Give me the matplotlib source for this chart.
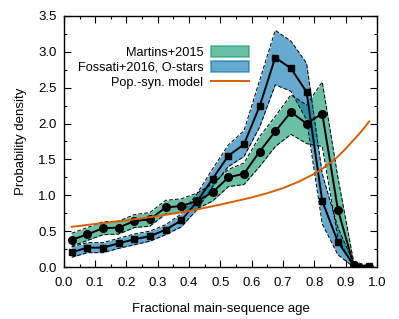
import matplotlib
matplotlib.use('Agg')
import matplotlib.pyplot as plt
from matplotlib.patches import Patch
from matplotlib.lines import Line2D
from matplotlib.ticker import MultipleLocator

plt.rcParams['font.family'] = ['Liberation Sans', 'DejaVu Sans']

# bin centres of the fractional MS age
age = [0.025, 0.075, 0.125, 0.175, 0.225, 0.275, 0.325, 0.375, 0.425, 0.475,
       0.525, 0.575, 0.625, 0.675, 0.725, 0.775, 0.825, 0.875, 0.925, 0.975]

# Martins+2015
martins = [0.377, 0.456, 0.54, 0.55, 0.64, 0.665, 0.83, 0.85, 0.92, 1.04,
           1.25, 1.30, 1.61, 1.89, 2.16, 2.00, 2.14, 0.80, 0.03, 0.0]
martins_hi = [0.47, 0.55, 0.63, 0.64, 0.73, 0.76, 0.93, 0.95, 1.03, 1.16,
              1.36, 1.45, 1.82, 2.10, 2.40, 2.26, 2.58, 1.25, 0.08, 0.01]
martins_lo = [0.29, 0.37, 0.45, 0.46, 0.55, 0.57, 0.74, 0.76, 0.81, 0.92,
              1.12, 1.15, 1.40, 1.68, 1.85, 1.72, 1.68, 0.40, 0.0, 0.0]

# Fossati+2016, O-stars
fossati = [0.205, 0.27, 0.27, 0.33, 0.386, 0.43, 0.52, 0.65, 0.91, 1.23,
           1.55, 1.71, 2.24, 2.92, 2.77, 2.44, 0.92, 0.35, 0.03, 0.01]
fossati_hi = [0.28, 0.34, 0.34, 0.40, 0.46, 0.50, 0.59, 0.74, 1.02, 1.37,
              1.70, 1.90, 2.60, 3.30, 3.15, 2.84, 1.30, 0.55, 0.06, 0.01]
fossati_lo = [0.135, 0.20, 0.20, 0.26, 0.31, 0.36, 0.45, 0.56, 0.80, 1.12,
              1.40, 1.54, 1.95, 2.54, 2.45, 2.05, 0.60, 0.17, 0.0, 0.0]

# population synthesis model
model_age = [0.025, 0.1, 0.2, 0.3, 0.4, 0.5, 0.55, 0.6, 0.65, 0.7, 0.75, 0.8,
             0.825, 0.85, 0.875, 0.9, 0.925, 0.95, 0.975]
model = [0.56, 0.60, 0.65, 0.71, 0.78, 0.87, 0.92, 0.97, 1.03, 1.10, 1.19, 1.30,
         1.37, 1.45, 1.54, 1.65, 1.77, 1.89, 2.03]

green = '#1b9e77'
blue = '#0072b2'
orange = '#d95f02'

fig = plt.figure(figsize=(3.99, 3.19), dpi=100)
ax = fig.add_axes([0.16, 0.163, 0.785, 0.787])

dash = (4, 2)
ax.fill_between(age, martins_lo, martins_hi, color=green, alpha=0.65, lw=0)
ax.plot(age, martins_lo, 'k--', lw=0.7, dashes=dash)
ax.plot(age, martins_hi, 'k--', lw=0.7, dashes=dash)
ax.fill_between(age, fossati_lo, fossati_hi, color=blue, alpha=0.6, lw=0)
ax.plot(age, fossati_lo, 'k--', lw=0.7, dashes=dash)
ax.plot(age, fossati_hi, 'k--', lw=0.7, dashes=dash)

ax.plot(age, martins, 'k-', marker='o', ms=5.5, lw=1.4)
ax.plot(age, fossati, 'k-', marker='s', ms=5, lw=1.4)
ax.plot(model_age, model, color=orange, lw=1.4)

ax.set_xlim(0, 1)
ax.set_ylim(0, 3.5)
ax.xaxis.set_major_locator(MultipleLocator(0.1))
ax.xaxis.set_minor_locator(MultipleLocator(0.05))
ax.yaxis.set_major_locator(MultipleLocator(0.5))
ax.yaxis.set_minor_locator(MultipleLocator(0.25))
ax.xaxis.set_major_formatter(lambda v, p: f'{v:.1f}')
ax.yaxis.set_major_formatter(lambda v, p: f'{v:.1f}')
ax.tick_params(which='both', direction='in', top=True, right=True, labelsize=9.5, width=0.8)
ax.tick_params(axis='x', which='major', length=5, pad=7)
ax.tick_params(axis='y', which='major', length=5, pad=5)
ax.tick_params(which='minor', length=2.5)
for s in ax.spines.values():
    s.set_linewidth(1.0)

ax.set_xlabel('Fractional main-sequence age', fontsize=9.5, labelpad=10)
ax.set_ylabel('Probability density', fontsize=9.5, labelpad=8)

handles = [Patch(facecolor=green, alpha=0.65, edgecolor=green, lw=1.2),
           Patch(facecolor=blue, alpha=0.6, edgecolor=blue, lw=1.2),
           Line2D([], [], color=orange, lw=1.4)]
labels = ['Martins+2015', 'Fossati+2016, O-stars', 'Pop.-syn. model']
ax.legend(handles, labels, loc='upper right', bbox_to_anchor=(0.61, 0.905),
          frameon=False, markerfirst=False, fontsize=9.2, handlelength=2.9,
          handleheight=0.9, labelspacing=0.18, handletextpad=0.65, borderpad=0)

fig.savefig('out.png', dpi=100)
